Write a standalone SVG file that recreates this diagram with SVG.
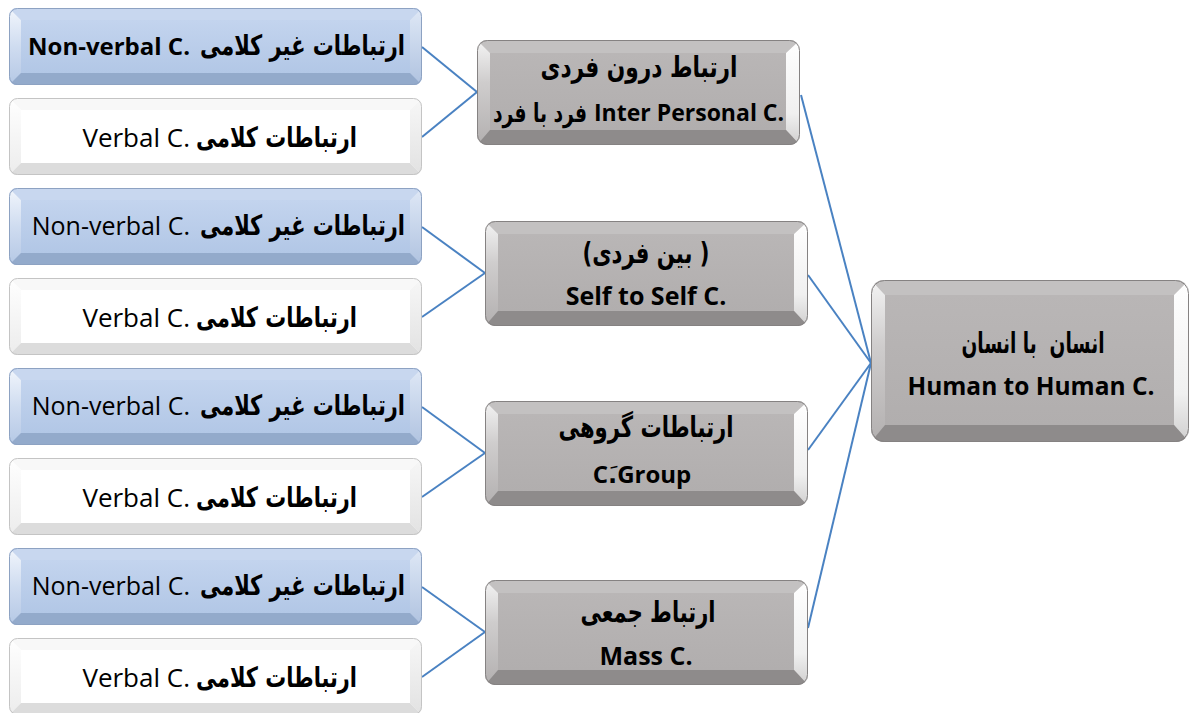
<svg xmlns="http://www.w3.org/2000/svg" xmlns:xlink="http://www.w3.org/1999/xlink" width="1190" height="713" viewBox="0 0 1190 713">
<style>
.lat{font-family:"Open Sans","DejaVu Sans",sans-serif;fill:#000}
.ar{font-family:"DejaVu Sans","Noto Sans",sans-serif;font-weight:bold;fill:#000}
.b{font-weight:bold}
.conn{stroke:#4a82c2;stroke-width:2;fill:none}
</style>
<defs>
<linearGradient id="gBlueFace" x1="0" y1="0" x2="0" y2="1"><stop offset="0" stop-color="#c3d4ee"/><stop offset="1" stop-color="#b2c7e6"/></linearGradient>
<linearGradient id="gBlueL" x1="0" y1="0" x2="0" y2="1"><stop offset="0" stop-color="#f2f6fc"/><stop offset="0.5" stop-color="#cfdcf0"/><stop offset="1" stop-color="#b5c8e5"/></linearGradient>
<linearGradient id="gBlueR" x1="0" y1="0" x2="0" y2="1"><stop offset="0" stop-color="#dfe8f6"/><stop offset="1" stop-color="#b0c3e0"/></linearGradient>
<linearGradient id="gWhiteL" x1="0" y1="0" x2="0" y2="1"><stop offset="0" stop-color="#ffffff"/><stop offset="1" stop-color="#ececec"/></linearGradient>
<linearGradient id="gWhiteR" x1="0" y1="0" x2="0" y2="1"><stop offset="0" stop-color="#f7f7f7"/><stop offset="1" stop-color="#e2e2e2"/></linearGradient>
<linearGradient id="gGrayFace" x1="0" y1="0" x2="0" y2="1"><stop offset="0" stop-color="#b9b6b6"/><stop offset="1" stop-color="#b1aeae"/></linearGradient>
<linearGradient id="gGrayL" x1="0" y1="0" x2="0" y2="1"><stop offset="0" stop-color="#f4f4f4"/><stop offset="0.4" stop-color="#cfcdcd"/><stop offset="1" stop-color="#b3b0b0"/></linearGradient>
<linearGradient id="gGrayR" x1="0" y1="0" x2="0" y2="1"><stop offset="0" stop-color="#ffffff"/><stop offset="0.7" stop-color="#f0f0f0"/><stop offset="1" stop-color="#d0cfcf"/></linearGradient>

<clipPath id="cL"><rect x="0" y="0" width="413" height="77" rx="8"/></clipPath>
<clipPath id="cM"><rect x="0" y="0" width="323" height="105" rx="10"/></clipPath>
<clipPath id="cR"><rect x="0" y="0" width="318" height="162" rx="13"/></clipPath>

<g id="bBlue">
 <g clip-path="url(#cL)">
  <rect x="0" y="0" width="413" height="77" fill="#b6c9e7"/>
  <polygon points="0,0 413,0 401,12 12,12" fill="#c8d7ef"/>
  <polygon points="0,0 12,12 12,65 0,77" fill="url(#gBlueL)"/>
  <polygon points="413,0 413,77 401,65 401,12" fill="url(#gBlueR)"/>
  <polygon points="0,77 413,77 401,65 12,65" fill="#93aacb"/>
  <rect x="12" y="12" width="389" height="53" fill="url(#gBlueFace)"/>
 </g>
 <rect x="0.5" y="0.5" width="412" height="76" rx="8" fill="none" stroke="#8da2c2" stroke-width="1"/>
</g>
<g id="bWhite">
 <g clip-path="url(#cL)">
  <rect x="0" y="0" width="413" height="77" fill="#ffffff"/>
  <polygon points="0,0 413,0 401,12 12,12" fill="#f8f8f8"/>
  <polygon points="0,0 12,12 12,65 0,77" fill="url(#gWhiteL)"/>
  <polygon points="413,0 413,77 401,65 401,12" fill="url(#gWhiteR)"/>
  <polygon points="0,77 413,77 401,65 12,65" fill="#dcdcdc"/>
  <rect x="12" y="12" width="389" height="53" fill="#ffffff"/>
 </g>
 <rect x="0.5" y="0.5" width="412" height="76" rx="8" fill="none" stroke="#c4c4c4" stroke-width="1"/>
</g>
<g id="bGray">
 <g clip-path="url(#cM)">
  <rect x="0" y="0" width="323" height="105" fill="#b4b1b1"/>
  <polygon points="0,0 323,0 309,13 13,13" fill="#c3c1c1"/>
  <polygon points="0,0 13,13 13,90 0,105" fill="url(#gGrayL)"/>
  <polygon points="323,0 323,105 309,90 309,13" fill="url(#gGrayR)"/>
  <polygon points="0,105 323,105 309,90 13,90" fill="#8e8b8b"/>
  <rect x="13" y="13" width="296" height="77" fill="url(#gGrayFace)"/>
 </g>
 <rect x="0.5" y="0.5" width="322" height="104" rx="10" fill="none" stroke="#858282" stroke-width="1"/>
</g>
<g id="bGrayR">
 <g clip-path="url(#cR)">
  <rect x="0" y="0" width="318" height="162" fill="#b4b1b1"/>
  <polygon points="0,0 318,0 303,15 14,15" fill="#c3c1c1"/>
  <polygon points="0,0 14,15 14,145 0,162" fill="url(#gGrayL)"/>
  <polygon points="318,0 318,162 303,145 303,15" fill="url(#gGrayR)"/>
  <polygon points="0,162 318,162 303,145 14,145" fill="#8e8b8b"/>
  <rect x="14" y="15" width="289" height="130" fill="url(#gGrayFace)"/>
 </g>
 <rect x="0.5" y="0.5" width="317" height="161" rx="13" fill="none" stroke="#858282" stroke-width="1"/>
</g>
</defs>

<rect width="1190" height="713" fill="#ffffff"/>

<g id="connectors">
 <line class="conn" x1="422" y1="47" x2="477" y2="92"/>
 <line class="conn" x1="422" y1="137" x2="477" y2="92"/>
 <line class="conn" x1="422" y1="227" x2="485" y2="273"/>
 <line class="conn" x1="422" y1="317" x2="485" y2="273"/>
 <line class="conn" x1="422" y1="407" x2="485" y2="453"/>
 <line class="conn" x1="422" y1="497" x2="485" y2="453"/>
 <line class="conn" x1="422" y1="587" x2="485" y2="632"/>
 <line class="conn" x1="422" y1="677" x2="485" y2="632"/>
 <line class="conn" x1="801" y1="95" x2="871" y2="363"/>
 <line class="conn" x1="808" y1="275" x2="871" y2="363"/>
 <line class="conn" x1="808" y1="450" x2="871" y2="363"/>
 <line class="conn" x1="808" y1="628" x2="871" y2="363"/>
</g>

<g id="nv1">
 <use xlink:href="#bBlue" x="9" y="8"/>
 <text class="lat b" x="190" y="55" font-size="24" text-anchor="end">Non-verbal C.</text>
 <text class="ar" x="405" y="55" font-size="28" text-anchor="end" textLength="205" lengthAdjust="spacingAndGlyphs">ارتباطات غیر کلامی</text>
</g>
<g id="v1">
 <use xlink:href="#bWhite" x="9" y="98"/>
 <text class="lat" x="190" y="147" font-size="26" text-anchor="end">Verbal C.</text>
 <text class="ar" x="357" y="147" font-size="28" text-anchor="end" textLength="161" lengthAdjust="spacingAndGlyphs">ارتباطات کلامی</text>
</g>
<g id="nv2">
 <use xlink:href="#bBlue" x="9" y="188"/>
 <text class="lat" x="190" y="235" font-size="25" text-anchor="end">Non-verbal C.</text>
 <text class="ar" x="405" y="235" font-size="28" text-anchor="end" textLength="205" lengthAdjust="spacingAndGlyphs">ارتباطات غیر کلامی</text>
</g>
<g id="v2">
 <use xlink:href="#bWhite" x="9" y="278"/>
 <text class="lat" x="190" y="327" font-size="26" text-anchor="end">Verbal C.</text>
 <text class="ar" x="357" y="327" font-size="28" text-anchor="end" textLength="161" lengthAdjust="spacingAndGlyphs">ارتباطات کلامی</text>
</g>
<g id="nv3">
 <use xlink:href="#bBlue" x="9" y="368"/>
 <text class="lat" x="190" y="415" font-size="25" text-anchor="end">Non-verbal C.</text>
 <text class="ar" x="405" y="415" font-size="28" text-anchor="end" textLength="205" lengthAdjust="spacingAndGlyphs">ارتباطات غیر کلامی</text>
</g>
<g id="v3">
 <use xlink:href="#bWhite" x="9" y="458"/>
 <text class="lat" x="190" y="507" font-size="26" text-anchor="end">Verbal C.</text>
 <text class="ar" x="357" y="507" font-size="28" text-anchor="end" textLength="161" lengthAdjust="spacingAndGlyphs">ارتباطات کلامی</text>
</g>
<g id="nv4">
 <use xlink:href="#bBlue" x="9" y="548"/>
 <text class="lat" x="190" y="595" font-size="25" text-anchor="end">Non-verbal C.</text>
 <text class="ar" x="405" y="595" font-size="28" text-anchor="end" textLength="205" lengthAdjust="spacingAndGlyphs">ارتباطات غیر کلامی</text>
</g>
<g id="v4">
 <use xlink:href="#bWhite" x="9" y="638"/>
 <text class="lat" x="190" y="687" font-size="26" text-anchor="end">Verbal C.</text>
 <text class="ar" x="357" y="687" font-size="28" text-anchor="end" textLength="161" lengthAdjust="spacingAndGlyphs">ارتباطات کلامی</text>
</g>

<g id="intra">
 <use xlink:href="#bGray" x="477" y="40"/>
 <text class="ar" x="639" y="77" font-size="29" text-anchor="middle" textLength="197" lengthAdjust="spacingAndGlyphs">ارتباط درون فردی</text>
 <text class="ar" transform="translate(587,122) scale(0.72,1)" x="0" y="0" font-size="26" text-anchor="end">فرد با فرد</text>
 <text class="lat b" x="594" y="121" font-size="23">Inter Personal C.</text>
</g>
<g id="inter">
 <use xlink:href="#bGray" x="485" y="221"/>
 <text class="ar" x="646" y="263" font-size="29" text-anchor="middle" textLength="127" lengthAdjust="spacingAndGlyphs">(بین فردی )</text>
 <text class="lat b" x="646" y="305" font-size="25" text-anchor="middle">Self to Self C.</text>
</g>
<g id="group">
 <use xlink:href="#bGray" x="485" y="401"/>
 <text class="ar" x="646" y="437" font-size="29" text-anchor="middle" textLength="175" lengthAdjust="spacingAndGlyphs">ارتباطات گروهی</text>
 <text class="lat b" x="642" y="483" font-size="24" text-anchor="middle">C.َGroup</text>
</g>
<g id="mass">
 <use xlink:href="#bGray" x="485" y="580"/>
 <text class="ar" x="648" y="622" font-size="29" text-anchor="middle" textLength="135" lengthAdjust="spacingAndGlyphs">ارتباط جمعی</text>
 <text class="lat b" x="646" y="665" font-size="25" text-anchor="middle">Mass C.</text>
</g>
<g id="human">
 <use xlink:href="#bGrayR" x="871" y="280"/>
 <text class="ar" x="1033" y="353" font-size="29" text-anchor="middle" style="white-space:pre" textLength="143" lengthAdjust="spacingAndGlyphs">انسان  با انسان</text>
 <text class="lat b" x="1031" y="395" font-size="24.5" text-anchor="middle">Human to Human C.</text>
</g>
</svg>
